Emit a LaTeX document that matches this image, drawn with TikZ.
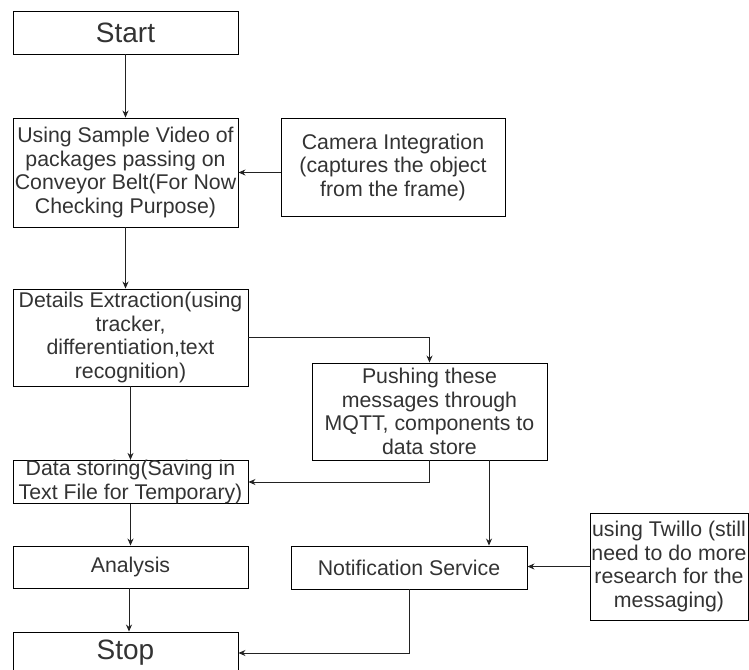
\documentclass[tikz,border=0pt]{standalone}
\usepackage{fontspec}
\setmainfont{Liberation Sans}
\usetikzlibrary{arrows.meta}
\definecolor{txt}{HTML}{333333}
\definecolor{ln}{HTML}{222222}
\tikzset{
  box/.style={draw=black, line width=0.9pt, rectangle, inner sep=0pt, align=center, text=txt,
    font=\fontsize{21.3}{23.5}\selectfont},
  bigbox/.style={box, font=\fontsize{28}{30}\selectfont},
  conn/.style={draw=ln, line width=0.9pt, -{Stealth[length=7pt,width=6pt]}},
}
\begin{document}
\begin{tikzpicture}[x=1pt,y=-1pt]
\useasboundingbox[fill=white] (0,0) rectangle (749,669);
\node[bigbox, minimum width=225pt, minimum height=43pt] (start) at (125.5,32.5) {Start};
\node[box, minimum width=225pt, minimum height=109pt] (sample) at (125.5,172.5)
  {Using Sample Video of\\packages passing on\\Conveyor Belt(For Now\\Checking Purpose)};
\node[box, minimum width=224pt, minimum height=98pt] (camera) at (393,167)
  {Camera Integration\\(captures the object\\from the frame)};
\node[box, minimum width=235pt, minimum height=97pt] (details) at (130.5,337.5)
  {Details Extraction(using\\tracker,\\differentiation,text\\recognition)};
\node[box, minimum width=235pt, minimum height=97pt] (push) at (429.5,411.5)
  {Pushing these\\messages through\\MQTT, components to\\data store};
\node[box, minimum width=235pt, minimum height=42pt] (data) at (130.5,482)
  {Data storing(Saving in\\Text File for Temporary)};
\node[box, minimum width=235pt, minimum height=42pt] (analysis) at (130.5,567) {Analysis};
\node[box, minimum width=236pt, minimum height=43pt] (notif) at (409,567.5) {Notification Service};
\node[box, minimum width=158pt, minimum height=107pt] (twillo) at (669,566.5)
  {using Twillo (still\\need to do more\\research for the\\messaging)};
\node[bigbox, minimum width=225pt, minimum height=42pt] (stop) at (125.5,653) {Stop};

\coordinate (pn) at ([xshift=59.5pt]push.south);
\draw[conn] (start.south) -- (sample.north);
\draw[conn] (camera.west |- sample.east) -- (sample.east);
\draw[conn] (sample.south) -- (sample.south |- details.north);
\draw[conn] (details.east) -| (push.north);
\draw[conn] (details.south) -- (data.north);
\draw[conn] (push.south) |- (data.east);
\draw[conn] (pn) -- (pn |- notif.north);
\draw[conn] (data.south) -- (analysis.north);
\draw[conn] ([xshift=-1.5pt]analysis.south) -- ([xshift=-1.5pt]analysis.south |- stop.north);
\draw[conn] (twillo.west) -- (twillo.west -| notif.east);
\draw[conn] (notif.south) |- (stop.east);
\end{tikzpicture}
\end{document}
